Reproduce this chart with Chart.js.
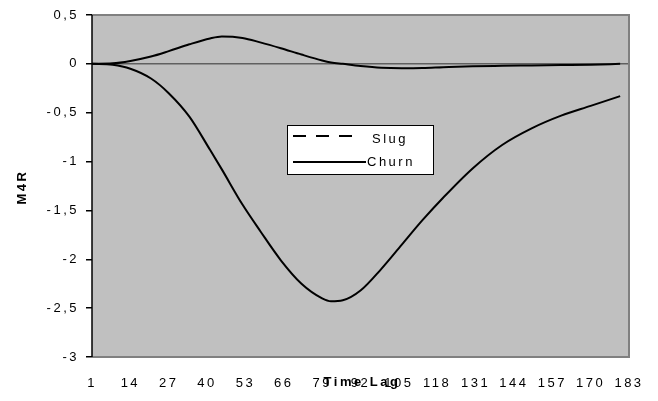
<!DOCTYPE html>
<html>
<head>
<meta charset="utf-8">
<script src="https://cdn.jsdelivr.net/npm/chart.js@4"></script>
<style>
  html, body { margin: 0; padding: 0; background: #fff; }
  #wrap { width: 658px; height: 401px; position: relative; }
</style>
</head>
<body>
<div id="wrap"><canvas id="chart"></canvas></div>
<script>
// time lags
const lags = [1, 8, 14, 21, 27, 34, 41, 45, 52, 58, 65, 72, 79, 82, 86, 92, 99, 106, 113, 120, 130, 140, 150, 160, 170, 180];
const slugValues = [0, 0.005, 0.03, 0.075, 0.13, 0.2, 0.26, 0.28, 0.265, 0.22, 0.16, 0.095, 0.035, 0.015, 0, -0.022, -0.04, -0.045, -0.043, -0.035, -0.025, -0.02, -0.016, -0.012, -0.008, 0];
const churnValues = [0, -0.01, -0.05, -0.15, -0.3, -0.54, -0.88, -1.08, -1.44, -1.71, -2.01, -2.25, -2.4, -2.43, -2.42, -2.32, -2.1, -1.85, -1.6, -1.37, -1.07, -0.83, -0.66, -0.53, -0.43, -0.33];
const xTicks = [1, 14, 27, 40, 53, 66, 79, 92, 105, 118, 131, 144, 157, 170, 183];
const yTicks = [0.5, 0, -0.5, -1, -1.5, -2, -2.5, -3];

const FONT = 'Liberation Sans, Arial, sans-serif';
const SPACING = '2.5px';

const toPoints = (vals) => vals.map((v, i) => ({ x: lags[i], y: v }));

const frame = {
  id: 'frame',
  beforeLayout(chart) {
    chart.ctx.letterSpacing = SPACING;
  },
  beforeDraw(chart) {
    const { ctx, chartArea: a } = chart;
    ctx.letterSpacing = SPACING;
    ctx.save();
    ctx.fillStyle = '#c0c0c0';
    ctx.fillRect(a.left, a.top, a.right - a.left, a.bottom - a.top);
    ctx.restore();
  },
  beforeDatasetsDraw(chart) {
    const { ctx, chartArea: a } = chart;
    ctx.save();
    ctx.strokeStyle = '#808080';
    ctx.lineWidth = 2;
    ctx.beginPath();
    ctx.moveTo(a.left, a.top);
    ctx.lineTo(a.right, a.top);
    ctx.lineTo(a.right, a.bottom);
    ctx.lineTo(a.left, a.bottom);
    ctx.stroke();
    ctx.strokeStyle = '#000';
    ctx.lineWidth = 1.5;
    ctx.beginPath();
    ctx.moveTo(a.left, a.top);
    ctx.lineTo(a.left, a.bottom);
    ctx.stroke();
    ctx.restore();
  },
  afterDraw(chart) {
    const ctx = chart.ctx;
    ctx.save();
    ctx.letterSpacing = SPACING;
    // axis titles
    ctx.fillStyle = '#000';
    ctx.font = 'bold 13px ' + FONT;
    ctx.textAlign = 'center';
    ctx.textBaseline = 'alphabetic';
    ctx.fillText('Time Lag', 362, 386);
    ctx.translate(26, 187);
    ctx.rotate(-Math.PI / 2);
    ctx.fillText('M4R', 0, 0);
    ctx.restore();

    // legend box
    ctx.save();
    ctx.fillStyle = '#fff';
    ctx.fillRect(287, 125, 147, 50);
    ctx.strokeStyle = '#000';
    ctx.lineWidth = 1;
    ctx.strokeRect(287.5, 125.5, 146, 49);
    ctx.lineWidth = 2;
    ctx.setLineDash([13, 10]);
    ctx.beginPath();
    ctx.moveTo(293, 136);
    ctx.lineTo(362, 136);
    ctx.stroke();
    ctx.setLineDash([]);
    ctx.beginPath();
    ctx.moveTo(293, 162);
    ctx.lineTo(366, 162);
    ctx.stroke();
    ctx.fillStyle = '#000';
    ctx.letterSpacing = SPACING;
    ctx.font = '13px ' + FONT;
    ctx.textAlign = 'left';
    ctx.textBaseline = 'middle';
    ctx.fillText(chart.data.datasets[0].label, 372, 139);
    ctx.fillText(chart.data.datasets[1].label, 367, 162);
    ctx.restore();
  }
};

new Chart(document.getElementById('chart'), {
  type: 'line',
  data: {
    datasets: [
      {
        label: 'Slug',
        data: toPoints(slugValues),
        borderColor: '#000',
        borderWidth: 2,
        pointRadius: 0,
        cubicInterpolationMode: 'monotone',
        fill: false
      },
      {
        label: 'Churn',
        data: toPoints(churnValues),
        borderColor: '#000',
        borderWidth: 2,
        pointRadius: 0,
        cubicInterpolationMode: 'monotone',
        fill: false
      }
    ]
  },
  options: {
    responsive: true,
    maintainAspectRatio: false,
    animation: false,
    layout: { padding: { top: 15, right: 29, left: 0, bottom: 0 } },
    plugins: {
      legend: { display: false },
      tooltip: { enabled: false }
    },
    scales: {
      x: {
        type: 'linear',
        min: 1,
        max: 183,
        afterBuildTicks: (s) => { s.ticks = xTicks.map(v => ({ value: v })); },
        afterFit: (s) => { s.height = 44; },
        grid: { display: false },
        border: { display: false },
        ticks: {
          autoSkip: false,
          maxRotation: 0,
          padding: 11,
          color: '#000',
          font: { family: FONT, size: 13 }
        }
      },
      y: {
        min: -3,
        max: 0.5,
        afterBuildTicks: (s) => { s.ticks = yTicks.map(v => ({ value: v })); },
        afterFit: (s) => { s.width = 92; },
        border: { display: false },
        grid: {
          color: (c) => c.tick && c.tick.value === 0 ? '#606060' : 'rgba(0,0,0,0)',
          lineWidth: 1.5,
          drawTicks: true,
          tickLength: 6,
          tickColor: '#000'
        },
        ticks: {
          padding: 7,
          color: '#000',
          font: { family: FONT, size: 13 },
          callback: (v) => String(v).replace('.', ',')
        }
      }
    }
  },
  plugins: [frame]
});
</script>
</body>
</html>
